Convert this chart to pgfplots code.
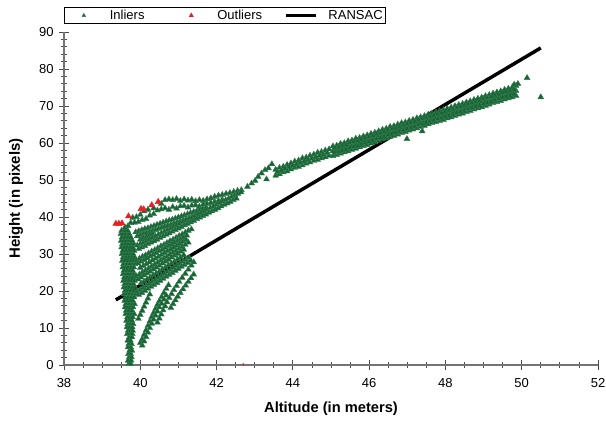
\documentclass[border=0pt]{standalone}
\usepackage{pgfplots}
\pgfplotsset{compat=1.18}
\usepackage{fontspec}
\setmainfont{Liberation Sans}
\definecolor{ingreen}{RGB}{22,101,52}
\definecolor{outred}{RGB}{232,32,36}
\pgfplotsset{
  markleg/.style={legend image code/.code={\path (0pt,0pt) (22.5pt,0pt);\draw[##1, mark size=1.6pt] plot coordinates {(11.25pt,0pt)};}},
  lineleg/.style={legend image code/.code={\draw[##1] (0pt,0pt) -- (22.5pt,0pt);}},
}
\begin{document}
\begin{tikzpicture}
\begin{axis}[
  at={(0,0)}, anchor=south west,
  scale only axis, width=400.5pt, height=249.75pt,
  xmin=38, xmax=52, ymin=0, ymax=90,
  axis x line*=bottom, axis y line*=left,
  xtick={38,40,...,52}, ytick={0,10,...,90},
  minor x tick num=3, minor y tick num=4,
  tick align=center,
  major tick length=7.5pt, minor tick length=4pt,
  tick style={black!70, line width=0.6pt},
  axis line style={black!55, line width=0.9pt},
  /pgf/number format/assume math mode=true,
  ticklabel style={font=\fontsize{9.75}{11}\selectfont},
  xticklabel style={yshift=-3pt},
  yticklabel style={xshift=-0.5pt},
  xlabel={\bfseries Altitude (in meters)},
  ylabel={\bfseries Height (in pixels)},
  xlabel style={font=\fontsize{11}{12}\selectfont, at={(axis description cs:0.5,0)}, anchor=north, yshift=-27.5pt, inner sep=0pt},
  ylabel style={font=\fontsize{11.2}{12}\selectfont, at={(axis description cs:0,0.5)}, anchor=center, yshift=36pt, inner sep=0pt},
  clip=false,
  legend columns=3,
  legend style={at={(axis description cs:0,1)}, anchor=south west, yshift=6pt,
    draw=black, line width=0.6pt, inner xsep=3pt, inner ysep=1.8pt,
    font=\fontsize{9.75}{11}\selectfont,
    nodes={inner sep=0pt},
    /tikz/every odd column/.append style={column sep=8pt}},
]
\addplot[only marks, mark=triangle*, mark size=2.55pt, color=ingreen,
  mark options={draw=ingreen!85!white, line width=0.3pt}, markleg]
coordinates {
(39.70,0.3) (39.75,0.3) (39.68,1.2) (39.76,1.2) (39.71,2.1) (39.77,2.1)
(39.69,3.0) (39.75,3.0) (39.72,3.9) (39.78,3.9) (39.68,4.8) (39.75,4.8)
(39.70,5.7) (39.77,5.7) (39.67,6.6) (39.74,6.6) (39.71,7.5) (39.78,7.5)
(39.66,8.4) (39.73,8.4) (39.79,8.4) (39.68,9.3) (39.75,9.3) (39.80,9.3)
(39.65,10.2) (39.72,10.2) (39.79,10.2) (39.67,11.1) (39.74,11.1) (39.81,11.1)
(39.64,12.0) (39.71,12.0) (39.78,12.0) (39.66,12.9) (39.73,12.9) (39.80,12.9)
(39.62,13.8) (39.70,13.8) (39.78,13.8) (39.84,13.8) (39.63,14.7) (39.70,14.7) (39.78,14.7)
(39.60,15.6) (39.67,15.6) (39.74,15.6) (39.81,15.6) (39.62,16.5) (39.70,16.5) (39.78,16.5) (39.85,16.5)
(39.59,17.4) (39.66,17.4) (39.73,17.4) (39.80,17.4) (39.61,18.3) (39.68,18.3) (39.76,18.3) (39.84,18.3)
(39.58,19.2) (39.65,19.2) (39.72,19.2) (39.80,19.2) (39.87,19.2)
(39.60,20.1) (39.67,20.1) (39.75,20.1) (39.83,20.1)
(39.57,21.0) (39.64,21.0) (39.71,21.0) (39.79,21.0) (39.86,21.0)
(39.59,21.9) (39.67,21.9) (39.75,21.9) (39.82,21.9)
(39.56,22.8) (39.63,22.8) (39.70,22.8) (39.78,22.8) (39.85,22.8)
(39.58,23.7) (39.66,23.7) (39.74,23.7) (39.81,23.7)
(39.55,24.6) (39.62,24.6) (39.69,24.6) (39.77,24.6) (39.84,24.6)
(39.57,25.5) (39.65,25.5) (39.73,25.5) (39.80,25.5)
(39.54,26.4) (39.61,26.4) (39.68,26.4) (39.76,26.4) (39.83,26.4)
(39.56,27.3) (39.64,27.3) (39.72,27.3) (39.79,27.3) (39.86,27.3)
(39.53,28.2) (39.60,28.2) (39.67,28.2) (39.75,28.2) (39.82,28.2)
(39.55,29.1) (39.63,29.1) (39.71,29.1) (39.78,29.1) (39.85,29.1)
(39.52,30.0) (39.59,30.0) (39.66,30.0) (39.74,30.0) (39.81,30.0)
(39.54,30.9) (39.62,30.9) (39.70,30.9) (39.77,30.9) (39.84,30.9)
(39.51,31.8) (39.58,31.8) (39.65,31.8) (39.73,31.8) (39.80,31.8)
(39.53,32.7) (39.61,32.7) (39.69,32.7) (39.76,32.7) (39.83,32.7)
(39.50,33.6) (39.57,33.6) (39.64,33.6) (39.72,33.6) (39.79,33.6)
(39.52,34.5) (39.60,34.5) (39.68,34.5) (39.75,34.5)
(39.49,35.4) (39.56,35.4) (39.63,35.4) (39.71,35.4)
(39.51,36.3) (39.59,36.3) (39.67,36.3) (39.60,37.2) (39.68,37.6)
(39.80,39.8) (39.90,40.0) (40.00,40.6) (40.10,41.6) (40.20,42.0) (40.35,42.4) (40.55,43.6)
(40.65,44.6) (40.75,44.8) (40.85,44.6) (40.95,44.9) (41.05,44.4) (41.15,44.8) (41.25,44.5)
(41.35,44.7) (41.45,44.3) (41.55,44.6) (41.65,44.4) (41.75,44.8) (41.85,45.1) (41.95,45.5)
(42.05,45.8) (42.15,46.0) (42.25,46.3) (42.35,46.5) (42.45,46.8) (42.55,47.1) (42.65,47.3)
(39.75,38.4) (39.85,38.5) (39.95,38.7) (40.05,39.2) (40.15,39.5) (40.25,40.4) (40.35,40.8)
(40.45,41.8) (40.55,42.1) (40.65,42.4) (40.75,42.0) (40.85,42.7) (40.95,42.3) (41.05,42.9)
(41.15,43.0) (41.25,42.6) (41.35,43.1) (41.45,43.2) (41.55,42.8) (41.65,43.4) (41.75,43.6)
(41.85,43.8) (41.95,44.1) (42.05,44.4) (42.15,44.7)
(39.88,35.9) (39.96,36.2) (40.04,36.5) (40.12,36.8) (40.20,37.0) (40.28,37.3) (40.36,37.6)
(40.44,37.9) (40.52,38.2) (40.60,38.5) (40.68,38.8) (40.76,39.1) (40.84,39.3) (40.92,39.6)
(41.00,39.9) (41.08,40.2) (41.16,40.5) (41.24,40.8) (41.32,41.1) (41.40,41.4) (41.48,41.6)
(41.56,41.9) (41.64,42.2) (41.72,42.5)
(39.92,34.8) (40.00,35.1) (40.08,35.4) (40.16,35.7) (40.24,35.9) (40.32,36.2) (40.40,36.5)
(40.48,36.8) (40.56,37.1) (40.64,37.4) (40.72,37.7) (40.80,37.9) (40.88,38.2) (40.96,38.5)
(41.04,38.8) (41.12,39.1) (41.20,39.4) (41.28,39.7) (41.36,39.9) (41.44,40.2) (41.52,40.5) (41.60,40.8)
(40.00,33.9) (40.08,34.3) (40.16,34.7) (40.24,35.1) (40.32,35.4)
(39.92,32.3) (40.00,32.7) (40.08,33.1) (40.16,33.6) (40.24,34.0) (40.32,34.4) (40.40,34.8)
(40.48,35.3) (40.56,35.7) (40.64,36.1) (40.72,36.5) (40.80,37.0) (40.88,37.4) (40.96,37.8)
(41.04,38.2) (41.12,38.7) (41.20,39.1) (41.28,39.5) (41.36,39.9) (41.44,40.4) (41.52,40.8)
(41.60,41.2) (41.68,41.6) (41.76,42.1) (41.84,42.5) (41.92,42.9) (42.00,43.3) (42.08,43.8)
(42.16,44.2) (42.24,44.6) (42.32,45.0) (42.40,45.5) (42.48,45.9) (42.56,46.3) (42.64,46.7)
(39.96,31.4) (40.04,31.8) (40.12,32.2) (40.20,32.7) (40.28,33.1) (40.36,33.5) (40.44,33.9)
(40.52,34.4) (40.60,34.8) (40.68,35.2) (40.76,35.6) (40.84,36.1) (40.92,36.5) (41.00,36.9)
(41.08,37.3) (41.16,37.8) (41.24,38.2) (41.32,38.6) (41.40,39.0) (41.48,39.5) (41.56,39.9)
(41.64,40.3) (41.72,40.7) (41.80,41.2) (41.88,41.6) (41.96,42.0) (42.04,42.4) (42.12,42.9)
(42.20,43.3) (42.28,43.7) (42.36,44.1) (42.44,44.6) (42.52,45.0)
(39.90,28.3) (39.98,28.8) (40.06,29.3) (40.14,29.7) (40.22,30.2) (40.30,30.7) (40.38,31.1)
(40.46,31.6) (40.54,32.1) (40.62,32.5) (40.70,33.0) (40.78,33.5) (40.86,33.9) (40.94,34.4)
(41.02,34.9) (41.10,35.3) (41.18,35.8) (41.26,36.3) (41.34,36.7)
(39.94,27.5) (40.02,28.0) (40.10,28.4) (40.18,28.9) (40.26,29.4) (40.34,29.8) (40.42,30.3)
(40.50,30.8) (40.58,31.2) (40.66,31.7) (40.74,32.2) (40.82,32.6) (40.90,33.1) (40.98,33.6)
(41.06,34.0) (41.14,34.5) (41.22,35.0)
(40.00,26.3) (40.08,26.8) (40.16,27.3) (40.24,27.8) (40.32,28.3) (40.40,28.8) (40.48,29.3)
(40.56,29.8) (40.64,30.3) (40.72,30.8) (40.80,31.3) (40.88,31.8) (40.96,32.3) (41.04,32.8)
(41.12,33.3) (41.20,33.8)
(39.90,24.0) (39.98,24.5) (40.06,25.1) (40.14,25.6) (40.22,26.1) (40.30,26.7) (40.38,27.2)
(40.46,27.7) (40.54,28.3) (40.62,28.8) (40.70,29.3) (40.78,29.9) (40.86,30.4) (40.94,30.9)
(41.02,31.5) (41.10,32.0) (41.18,32.5) (41.26,33.1)
(39.94,23.2) (40.02,23.7) (40.10,24.3) (40.18,24.8) (40.26,25.3) (40.34,25.9) (40.42,26.4)
(40.50,26.9) (40.58,27.5) (40.66,28.0) (40.74,28.5) (40.82,29.1) (40.90,29.6) (40.98,30.1)
(41.06,30.7) (41.14,31.2)
(40.02,22.1) (40.10,22.6) (40.18,23.2) (40.26,23.7) (40.34,24.3) (40.42,24.8) (40.50,25.3)
(40.58,25.9) (40.66,26.4) (40.74,27.0) (40.82,27.5) (40.90,28.0) (40.98,28.6) (41.06,29.1)
(41.14,29.7)
(39.92,19.8) (40.00,20.3) (40.08,20.9) (40.16,21.4) (40.24,22.0) (40.32,22.5) (40.40,23.0)
(40.48,23.6) (40.56,24.1) (40.64,24.7) (40.72,25.2) (40.80,25.7) (40.88,26.3) (40.96,26.8)
(41.04,27.4) (41.12,27.9) (41.20,28.4) (41.28,29.0)
(39.96,19.0) (40.04,19.5) (40.12,20.1) (40.20,20.6) (40.28,21.2) (40.36,21.7) (40.44,22.2)
(40.52,22.8) (40.60,23.3) (40.68,23.9) (40.76,24.4) (40.84,24.9) (40.92,25.5) (41.00,26.0)
(41.08,26.6) (41.16,27.1) (41.24,27.6) (41.32,28.2)
(39.95,12.5) (40.00,13.6) (40.05,14.7) (40.10,15.8) (40.15,16.9) (40.20,18.0) (40.25,19.1)
(40.00,6.0) (40.05,7.0) (40.10,8.2) (40.15,9.4) (40.20,10.6) (40.25,11.8) (40.30,13.0)
(40.35,14.1) (40.40,15.2) (40.45,16.3) (40.50,17.3) (40.56,18.4) (40.62,19.5) (40.68,20.6) (40.74,21.6)
(40.05,5.3) (40.10,6.4) (40.15,7.6) (40.20,8.8) (40.25,10.0) (40.30,11.2) (40.35,12.3)
(40.40,13.4) (40.45,14.5) (40.50,15.6) (40.56,16.6) (40.62,17.7) (40.68,18.8)
(40.45,11.5) (40.50,12.6) (40.55,13.7) (40.60,14.8) (40.65,15.9) (40.70,17.0) (40.76,18.1)
(40.82,19.2) (40.88,20.3) (40.95,21.4) (41.02,22.5) (41.10,23.6) (41.18,24.7) (41.26,25.8)
(41.34,26.9) (41.40,27.8)
(40.80,15.5) (40.86,16.5) (40.92,17.5) (40.98,18.5) (41.05,19.5) (41.12,20.5) (41.19,21.5)
(41.26,22.5) (41.33,23.5) (41.40,24.5)
(42.81,48.2) (42.92,49.1) (43.01,49.8) (43.09,50.9) (43.18,51.8) (43.27,52.7) (43.36,53.2)
(43.45,54.3) (43.31,50.2)
(43.55,52.8) (43.55,51.2) (43.65,53.3) (43.65,51.6) (43.75,53.6) (43.75,52.1)
(43.85,54.1) (43.85,52.4) (43.95,54.5) (43.95,52.9) (44.05,55.0) (44.05,53.3)
(44.15,55.3) (44.15,53.6) (44.25,55.9) (44.25,54.0) (44.35,56.1) (44.35,54.5)
(44.45,56.6) (44.45,54.8) (44.55,56.9) (44.55,55.2) (44.65,57.4) (44.65,55.5)
(44.75,57.6) (44.75,55.9) (44.85,58.0) (44.85,56.2) (44.95,58.3) (44.95,56.6)
(43.60,52.2) (43.70,52.6) (43.80,53.1) (43.90,53.5) (44.00,53.9) (44.10,54.3) (44.20,54.7)
(44.30,55.1) (44.40,55.5) (44.50,55.9) (44.60,56.2) (44.70,56.6) (44.80,56.9) (44.90,57.3)
(45.05,59.1) (45.05,57.8) (45.05,56.5) (45.15,59.3) (45.15,58.2) (45.15,56.8)
(45.25,59.8) (45.25,58.4) (45.25,57.2) (45.35,60.0) (45.35,58.9) (45.35,57.5)
(45.45,60.5) (45.45,59.2) (45.45,57.8) (45.55,60.7) (45.55,59.4) (45.55,58.2)
(45.65,61.2) (45.65,59.9) (45.65,58.5) (45.75,61.4) (45.75,60.1) (45.75,58.9)
(45.85,61.8) (45.85,60.6) (45.85,59.2) (45.95,62.1) (45.95,60.8) (45.95,59.5)
(46.05,62.5) (46.05,61.2) (46.05,59.9) (46.15,62.8) (46.15,61.6) (46.15,60.2)
(46.25,63.2) (46.25,61.9) (46.25,60.6) (46.35,63.6) (46.35,62.2) (46.35,61.0)
(46.45,63.9) (46.45,62.7) (46.45,61.3) (46.55,64.4) (46.55,63.0) (46.55,61.7)
(46.65,64.6) (46.65,63.4) (46.65,62.0) (46.75,65.0) (46.75,63.6) (46.75,62.3)
(46.85,65.4) (46.85,64.0) (46.85,62.7) (46.95,65.6) (46.95,64.4) (46.95,63.0)
(47.05,66.0) (47.05,64.7) (47.05,63.4) (47.15,66.3) (47.15,65.1) (47.15,63.7)
(47.25,66.7) (47.25,65.3) (47.25,64.0) (47.35,67.0) (47.35,65.8) (47.35,64.4)
(47.45,67.3) (47.45,66.0) (47.45,64.7) (47.55,67.7) (47.55,66.3) (47.55,65.1)
(47.65,68.0) (47.65,66.7) (47.65,65.4) (47.75,68.3) (47.75,67.0) (47.75,65.7)
(47.85,68.6) (47.85,67.4) (47.85,66.0) (47.95,68.9) (47.95,67.7) (47.95,66.3)
(48.05,69.3) (48.05,68.0) (48.05,66.7) (48.15,69.6) (48.15,68.4) (48.15,67.0)
(48.25,70.0) (48.25,68.6) (48.25,67.4) (48.35,70.3) (48.35,69.1) (48.35,67.7)
(48.45,70.6) (48.45,69.3) (48.45,68.0) (48.55,71.0) (48.55,69.6) (48.55,68.4)
(48.65,71.3) (48.65,70.1) (48.65,68.7) (48.75,71.7) (48.75,70.3) (48.75,69.1)
(48.85,72.0) (48.85,70.7) (48.85,69.4) (48.95,72.3) (48.95,71.1) (48.95,69.7)
(49.05,72.7) (49.05,71.4) (49.05,70.1) (49.15,73.0) (49.15,71.8) (49.15,70.4)
(49.25,73.4) (49.25,72.0) (49.25,70.8) (49.35,73.7) (49.35,72.4) (49.35,71.1)
(49.45,74.0) (49.45,72.8) (49.45,71.4) (49.55,74.4) (49.55,73.1) (49.55,71.8)
(49.65,74.7) (49.65,73.5) (49.65,72.1) (49.75,75.0) (49.75,73.7) (49.75,72.4)
(49.85,75.5) (49.85,74.1) (49.85,72.8) (49.80,75.8) (49.90,76.0)
(45.10,58.6) (45.10,57.3) (45.20,58.9) (45.20,57.6) (45.30,59.3) (45.30,58.0)
(45.40,59.6) (45.40,58.3) (45.50,60.0) (45.50,58.7) (45.60,60.3) (45.60,59.0)
(45.70,60.6) (45.70,59.3) (45.80,61.0) (45.80,59.7) (45.90,61.3) (45.90,60.0)
(46.00,61.7) (46.00,60.4) (46.10,62.0) (46.10,60.7) (46.20,62.4) (46.20,61.1)
(46.30,62.7) (46.30,61.4) (46.40,63.1) (46.40,61.8) (46.50,63.5) (46.50,62.2)
(46.60,63.8) (46.60,62.5) (46.70,64.1) (46.70,62.8) (46.80,64.5) (46.80,63.2)
(46.90,64.8) (46.90,63.5) (47.00,65.2) (47.00,63.9) (47.10,65.5) (47.10,64.2)
(47.20,65.8) (47.20,64.5) (47.30,66.2) (47.30,64.9) (47.40,66.5) (47.40,65.2)
(47.50,66.9) (47.50,65.6) (47.60,67.2) (47.60,65.9) (47.70,67.5) (47.70,66.2)
(47.80,67.8) (47.80,66.5) (47.90,68.1) (47.90,66.8) (48.00,68.5) (48.00,67.2)
(48.10,68.8) (48.10,67.5) (48.20,69.1) (48.20,67.8) (48.30,69.5) (48.30,68.2)
(48.40,69.8) (48.40,68.5) (48.50,70.2) (48.50,68.9) (48.60,70.5) (48.60,69.2)
(48.70,70.8) (48.70,69.5) (48.80,71.2) (48.80,69.9) (48.90,71.5) (48.90,70.2)
(49.00,71.9) (49.00,70.6) (49.10,72.2) (49.10,70.9) (49.20,72.5) (49.20,71.2)
(49.30,72.9) (49.30,71.6) (49.40,73.2) (49.40,71.9) (49.50,73.6) (49.50,72.3)
(49.60,73.9) (49.60,72.6) (49.70,74.2) (49.70,72.9) (49.80,74.5) (49.80,73.2)
(50.14,77.6) (50.50,72.4) (46.99,61.1) (47.39,63.2)
};
\addlegendentry{\makebox[49.5pt][l]{Inliers}}
\addplot[only marks, mark=triangle*, mark size=2.55pt, color=outred, markleg]
coordinates {
(39.36,38.2) (39.44,38.2) (39.52,38.3) (39.69,40.2) (40.02,42.2) (40.09,42.1) (40.30,43.2) (40.47,44.1)
};
\addlegendentry{\makebox[50.25pt][l]{Outliers}}
\addplot[only marks, mark=*, mark size=0.5pt, color=outred, forget plot] coordinates {(42.7,0.2)};
\addplot[black, line width=2.6pt, lineleg]
coordinates {(39.36,17.6) (50.5,85.7)};
\addlegendentry{\makebox[40pt][l]{RANSAC}}
\end{axis}
\pgfresetboundingbox
\path (-48pt,-42pt) rectangle (406.5pt,273.75pt);
\end{tikzpicture}
\end{document}
